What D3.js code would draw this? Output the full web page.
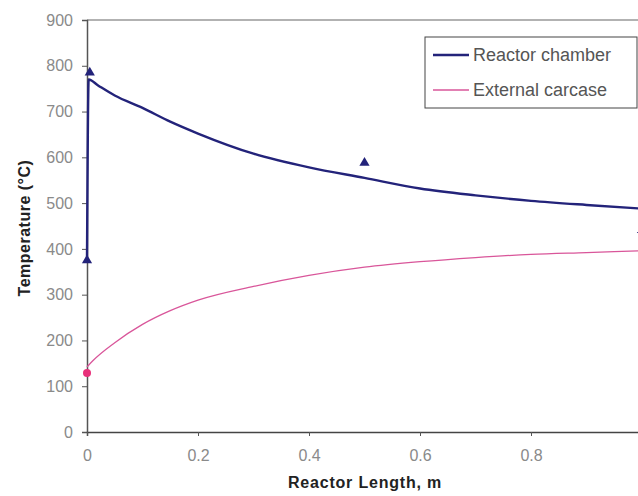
<!DOCTYPE html>
<html>
<head>
<meta charset="utf-8">
<script src="https://cdn.jsdelivr.net/npm/d3@7"></script>
<style>
  body { margin: 0; background: #fff; }
  svg { display: block; }
</style>
</head>
<body>
<div id="chart"></div>
<script>
// reactor chamber temperature along the length
const chamberX = [0, 0.003, 0.02, 0.05, 0.1, 0.15, 0.2, 0.3, 0.4, 0.5, 0.6, 0.7, 0.8, 0.9, 1.0];
const chamberT = [380, 770, 757, 735, 708, 678, 652, 608, 578, 555, 532, 517, 505, 496, 488];

// external carcase temperature
const carcaseX = [0, 0.01, 0.05, 0.1, 0.15, 0.2, 0.3, 0.4, 0.5, 0.6, 0.7, 0.8, 0.9, 1.0];
const carcaseT = [142, 155, 195, 235, 265, 288, 318, 342, 360, 372, 381, 388, 392, 396];

// measured points
const chamberMeasX = [0, 0.005, 0.5, 1.0];
const chamberMeasT = [375, 785, 588, 441];
const carcaseMeasX = [0, 1.0];
const carcaseMeasT = [129, 369];

const xTicks = [0, 0.2, 0.4, 0.6, 0.8];
const yTicks = [0, 100, 200, 300, 400, 500, 600, 700, 800, 900];
const seriesNames = ["Reactor chamber", "External carcase"];

const W = 638, H = 496;
const margin = {top: 20, right: -4, bottom: 64, left: 87};
const width = W - margin.left - margin.right,
      height = H - margin.top - margin.bottom;

const font = "Liberation Sans, Arial, sans-serif";

const svg = d3.select("#chart")
  .append("svg")
  .attr("width", W)
  .attr("height", H);

const g = svg.append("g")
  .attr("transform", `translate(${margin.left},${margin.top})`);

const x = d3.scaleLinear().domain([0, 1]).range([0, width]);
const y = d3.scaleLinear().domain([0, 900]).range([height, 0]);

// plot frame top
g.append("line")
  .attr("x1", 0).attr("x2", width)
  .attr("y1", 0).attr("y2", 0)
  .attr("stroke", "#999").attr("stroke-width", 1.5);

// axes
const yAxis = g.append("g")
  .call(d3.axisLeft(y).tickValues(yTicks).tickSize(5).tickPadding(9));
yAxis.select(".domain").attr("stroke", "#555").attr("stroke-width", 1.5);
yAxis.selectAll(".tick line").attr("stroke", "#555");
yAxis.selectAll("text")
  .style("font-family", font)
  .style("font-size", "16px")
  .attr("fill", "#8a8a8a");

const xAxis = g.append("g")
  .attr("transform", `translate(0,${height})`)
  .call(d3.axisBottom(x).tickValues(xTicks).tickSize(4).tickPadding(14).tickFormat(d3.format("")));
xAxis.select(".domain").attr("stroke", "#444").attr("stroke-width", 1.5);
xAxis.selectAll(".tick line").attr("stroke", "#555");
xAxis.selectAll("text")
  .style("font-family", font)
  .style("font-size", "16px")
  .attr("fill", "#8a8a8a");

// axis titles
svg.append("text")
  .attr("x", 365).attr("y", 488)
  .attr("text-anchor", "middle")
  .style("font-family", font)
  .style("font-size", "16px")
  .style("font-weight", "bold")
  .style("letter-spacing", "0.8px")
  .attr("fill", "#222")
  .text("Reactor Length, m");

svg.append("text")
  .attr("transform", "translate(30,228) rotate(-90)")
  .attr("text-anchor", "middle")
  .style("font-family", font)
  .style("font-size", "16px")
  .style("font-weight", "bold")
  .style("letter-spacing", "0.5px")
  .attr("fill", "#222")
  .text("Temperature (°C)");

const line = d3.line()
  .x(d => x(d[0]))
  .y(d => y(d[1]))
  .curve(d3.curveMonotoneX);

const chamberColor = "#23237a";
const carcaseColor = "#d9569a";

g.append("path")
  .datum(d3.zip(carcaseX, carcaseT))
  .attr("fill", "none")
  .attr("stroke", carcaseColor)
  .attr("stroke-width", 1.3)
  .attr("d", line);

g.append("path")
  .datum(d3.zip(chamberX, chamberT))
  .attr("fill", "none")
  .attr("stroke", chamberColor)
  .attr("stroke-width", 2.4)
  .attr("d", line);

// markers
const tri = d3.symbol().type(d3.symbolTriangle).size(45);
g.selectAll(".tri")
  .data(d3.zip(chamberMeasX, chamberMeasT))
  .join("path")
  .attr("class", "tri")
  .attr("transform", d => `translate(${x(d[0])},${y(d[1])})`)
  .attr("d", tri)
  .attr("fill", chamberColor);

g.selectAll(".dot")
  .data(d3.zip(carcaseMeasX, carcaseMeasT))
  .join("circle")
  .attr("class", "dot")
  .attr("cx", d => x(d[0]))
  .attr("cy", d => y(d[1]))
  .attr("r", 4)
  .attr("fill", "#e8307a");

// legend
const legend = svg.append("g").attr("transform", "translate(425,37)");
legend.append("rect")
  .attr("width", 212).attr("height", 71)
  .attr("fill", "#fff")
  .attr("stroke", "#444").attr("stroke-width", 1);

legend.selectAll(".item")
  .data(seriesNames)
  .join("g")
  .attr("class", "item")
  .attr("transform", (d, i) => `translate(8,${18 + i * 35})`)
  .each(function(d, i) {
    const it = d3.select(this);
    it.append("line")
      .attr("x1", 0).attr("x2", 36)
      .attr("stroke", i === 0 ? chamberColor : carcaseColor)
      .attr("stroke-width", i === 0 ? 2.4 : 1.3);
    it.append("text")
      .attr("x", 40).attr("dy", "0.35em")
      .style("font-family", font)
      .style("font-size", "18px")
      .attr("fill", "#555")
      .text(d);
  });
</script>
</body>
</html>
